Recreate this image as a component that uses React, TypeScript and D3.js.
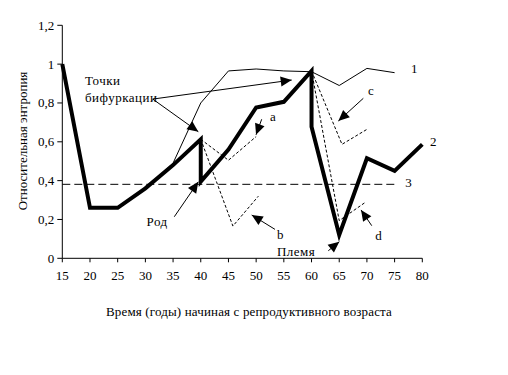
import React from "react";
import * as d3 from "d3";

const W = 508, H = 375;
const xTicks = [15, 20, 25, 30, 35, 40, 45, 50, 55, 60, 65, 70, 75, 80];
const yTicks = [0, 0.2, 0.4, 0.6, 0.8, 1, 1.2];

// Series 2 (bold)
const s2X = [15, 20, 25, 30, 35, 40, 40, 45, 50, 55, 60, 60, 65, 70, 75, 80];
const s2Y = [1.0, 0.26, 0.26, 0.36, 0.48, 0.613, 0.395, 0.56, 0.777, 0.806, 0.965, 0.678, 0.12, 0.515, 0.45, 0.587];
// Series 1 (thin)
const s1X = [15, 20, 25, 30, 35, 40, 45, 50, 55, 60, 65, 70, 75];
const s1Y = [1.0, 0.26, 0.26, 0.36, 0.49, 0.8, 0.965, 0.975, 0.965, 0.961, 0.89, 0.978, 0.956];
// Series 3 (dashed level)
const s3X = [15, 75];
const s3Y = [0.381, 0.381];
// branch a, b, c, d (thin dashed)
const aX = [40, 45, 50];
const aY = [0.613, 0.505, 0.627];
const bX = [40, 45.8, 50.4];
const bY = [0.613, 0.166, 0.32];
const cX = [60, 65.5, 70];
const cY = [0.965, 0.587, 0.664];
const dX = [60, 65, 69.8];
const dY = [0.965, 0.194, 0.29];

// annotation arrows: [x0, y0, xTip, yTip] in data units
const arrowLines = [
  [31.33, 0.82, 39.56, 0.652],
  [31.33, 0.82, 56.42, 0.918],
  [35.22, 0.214, 39.56, 0.394],
  [51.0, 0.716, 49.98, 0.636],
  [53.4, 0.149, 49.2, 0.223],
  [69.35, 0.824, 64.84, 0.707],
  [70.87, 0.168, 68.94, 0.249],
  [63.03, 0.039, 65.02, 0.085],
];
// annotation texts: [x, y, text]
const labels: [number, number, string][] = [
  [19.1, 0.893, "Точки"],
  [19.1, 0.805, "бифуркации"],
  [30.2, 0.164, "Род"],
  [52.5, 0.707, "a"],
  [53.75, 0.1, "b"],
  [70.2, 0.841, "c"],
  [71.5, 0.094, "d"],
  [53.75, 0.012, "Племя"],
  [77.95, 0.955, "1"],
  [81.4, 0.578, "2"],
  [76.9, 0.367, "3"],
];

export default function App() {
  const x = d3.scaleLinear().domain([15, 80]).range([62.3, 422.3]);
  const y = d3.scaleLinear().domain([0, 1.2]).range([258.3, 25.3]);
  const line = (xs: number[], ys: number[]) =>
    d3.line<number>().x((_, i) => x(xs[i])).y((_, i) => y(ys[i]))(xs) || "";
  const font = "Liberation Serif";
  const fmt = (v: number) => String(+v.toFixed(1)).replace(".", ",");

  const arrowHead = (x0: number, y0: number, x1: number, y1: number) => {
    const dx = x1 - x0, dy = y1 - y0;
    const len = Math.hypot(dx, dy) || 1;
    const ux = dx / len, uy = dy / len;
    const L = 11, hw = 5;
    const bx = x1 - ux * L, by = y1 - uy * L;
    return `M${x1},${y1}L${bx - uy * hw},${by + ux * hw}L${bx + uy * hw},${by - ux * hw}Z`;
  };

  return (
    <svg width={W} height={H} style={{ position: "absolute", left: 0, top: 0, background: "#fff", fontFamily: font, fontSize: 13 }}>
      <rect width={W} height={H} fill="#fff" />
      {/* axes */}
      <line x1={x(15)} x2={x(15)} y1={y(0)} y2={y(1.2)} stroke="#000" />
      <line x1={x(15)} x2={x(80)} y1={y(0)} y2={y(0)} stroke="#000" />
      {yTicks.map((t) => (
        <g key={"y" + t}>
          <line x1={x(15) - 5} x2={x(15)} y1={y(t)} y2={y(t)} stroke="#000" />
          <text x={x(15) - 8} y={y(t) + 4.5} textAnchor="end">{fmt(t)}</text>
        </g>
      ))}
      {xTicks.map((t) => (
        <g key={"x" + t}>
          <line x1={x(t)} x2={x(t)} y1={y(0)} y2={y(0) + 4} stroke="#000" />
          <text x={x(t)} y={280} textAnchor="middle">{t}</text>
        </g>
      ))}
      <text transform={`translate(27,141) rotate(-90)`} textAnchor="middle">Относительная энтропия</text>
      <text x={249} y={316} textAnchor="middle" letterSpacing={0.15}>Время (годы) начиная с репродуктивного возраста</text>

      {/* series */}
      <path d={line(s3X, s3Y)} fill="none" stroke="#000" strokeWidth={1} strokeDasharray="8,4" />
      <path d={line(s1X, s1Y)} fill="none" stroke="#000" strokeWidth={1} />
      {[[aX, aY], [bX, bY], [cX, cY], [dX, dY]].map(([xs, ys], i) => (
        <path key={i} d={line(xs, ys)} fill="none" stroke="#000" strokeWidth={1} strokeDasharray="3,2" />
      ))}
      <path d={line(s2X, s2Y)} fill="none" stroke="#000" strokeWidth={4} strokeLinejoin="miter" />

      {/* annotations */}
      {arrowLines.map(([a, b, c, d], i) => {
        const x0 = x(a), y0 = y(b), x1 = x(c), y1 = y(d);
        return (
          <g key={"a" + i}>
            <line x1={x0} y1={y0} x2={x1} y2={y1} stroke="#000" strokeWidth={1} />
            <path d={arrowHead(x0, y0, x1, y1)} fill="#000" />
          </g>
        );
      })}
      {labels.map(([a, b, t], i) => (
        <text key={"l" + i} x={x(a)} y={y(b)} letterSpacing={0.5}>{t}</text>
      ))}
    </svg>
  );
}
